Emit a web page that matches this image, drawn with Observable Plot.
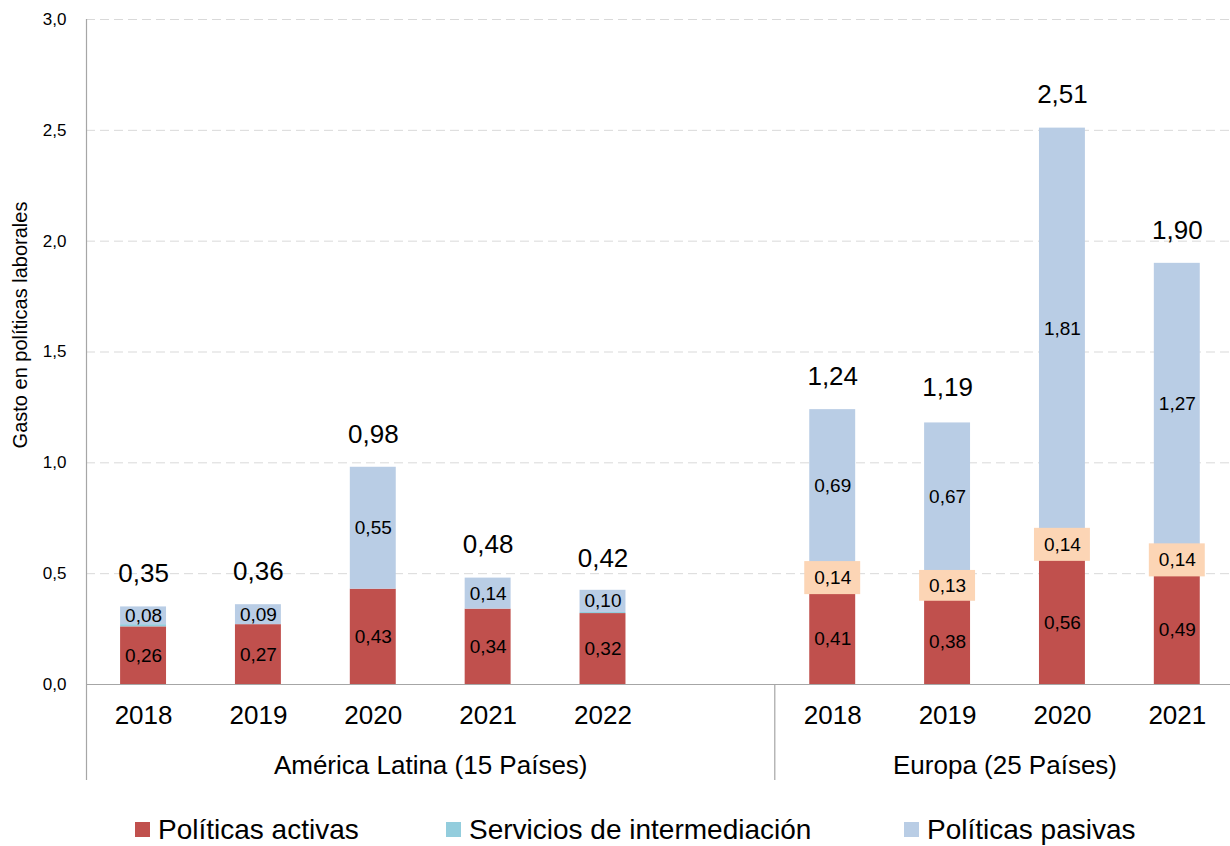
<!DOCTYPE html>
<html>
<head>
<meta charset="utf-8">
<script src="https://cdn.jsdelivr.net/npm/d3@7"></script>
<script src="https://cdn.jsdelivr.net/npm/@observablehq/plot@0.6"></script>
<style>
  body { margin: 0; background: #fff; font-family: "Liberation Sans", Arial, sans-serif; }
  #wrap { position: relative; width: 1230px; height: 846px; overflow: hidden; }
  #legend { position: absolute; left: 0; top: 800px; width: 1230px; height: 46px; }
  .item { position: absolute; top: 16px; font-size: 28px; line-height: 28px; color: #000; white-space: nowrap; }
  .sw { display: inline-block; width: 15px; height: 15px; margin-right: 8px; vertical-align: 2px; }
</style>
</head>
<body>
<div id="wrap"><div id="chart"></div><div id="legend"></div></div>
<script>
// ---- data ----
const groupLabels = ["América Latina (15 Países)", "Europa (25 Países)"];
const yearsAL = ["2018", "2019", "2020", "2021", "2022"];
const yearsEU = ["2018", "2019", "2020", "2021"];
const series = ["Políticas activas", "Servicios de intermediación", "Políticas pasivas"];
const colors = ["#C0504D", "#93CDDD", "#B9CDE5"];

const activasAL = [0.26, 0.27, 0.43, 0.34, 0.32];
const intermAL  = [0.01, 0.00, 0.00, 0.00, 0.005];
const pasivasAL = [0.08, 0.09, 0.55, 0.14, 0.10];
const totalAL   = [0.35, 0.36, 0.98, 0.48, 0.42];

const activasEU = [0.41, 0.38, 0.56, 0.49];
const intermEU  = [0.14, 0.13, 0.14, 0.14];
const pasivasEU = [0.69, 0.67, 1.81, 1.27];
const totalEU   = [1.24, 1.19, 2.51, 1.90];

const yTicks = [0, 0.5, 1.0, 1.5, 2.0, 2.5, 3.0];

// ---- build tables ----
const domainX = [...yearsAL.map(y => "AL-" + y), "gap", ...yearsEU.map(y => "EU-" + y)];
const segs = [];
const totals = [];
function addGroup(prefix, years, act, inter, pas, tot) {
  years.forEach((yr, i) => {
    const key = prefix + "-" + yr;
    let base = 0;
    [act[i], inter[i], pas[i]].forEach((v, s) => {
      segs.push({key, group: prefix, serie: series[s], value: v, y1: base, y2: base + v, mid: base + v / 2});
      base += v;
    });
    totals.push({key, total: tot[i]});
  });
}
addGroup("AL", yearsAL, activasAL, intermAL, pasivasAL, totalAL);
addGroup("EU", yearsEU, activasEU, intermEU, pasivasEU, totalEU);

const fmt2 = v => d3.format(".2f")(v).replace(".", ",");
const fmt1 = v => d3.format(".1f")(v).replace(".", ",");

// ---- layout ----
const W = 1230, H = 800, mL = 86, mR = 0, mT = 19, mB = 116;
const pIn = 0.6, pOut = 0.28;
const step = (W - mL - mR) / (domainX.length - pIn + 2 * pOut);

const segLabels = segs.filter(d => d.value >= 0.05);
const peach = segs.filter(d => d.group === "EU" && d.serie === series[1]);

const chart = Plot.plot({
  width: W, height: H,
  marginLeft: mL, marginRight: mR, marginTop: mT, marginBottom: mB,
  style: {fontFamily: "'Liberation Sans', Arial, sans-serif", color: "#000", background: "#fff"},
  x: {domain: domainX, paddingInner: pIn, paddingOuter: pOut, align: 0.53, round: false, axis: null},
  y: {domain: [0, 3], axis: null},
  color: {domain: series, range: colors},
  marks: [
    Plot.gridY(yTicks.slice(1), {stroke: "#d9d9d9", strokeOpacity: 1, strokeDasharray: "9,5"}),
    Plot.barY(segs, {x: "key", y1: "y1", y2: "y2", fill: "serie"}),
    Plot.barY(peach, {x: "key", y1: "y1", y2: "y2", fill: "#FCD5B5", insetLeft: -5, insetRight: -5, insetTop: -1, insetBottom: -1}),
    Plot.text(segLabels, {x: "key", y: "mid", text: d => fmt2(d.value), fontSize: 19, fill: "#000"}),
    Plot.text(totals, {x: "key", y: "total", text: d => fmt2(d.total), fontSize: 26, dy: -33, fill: "#000"}),
    Plot.ruleY([0], {stroke: "#a6a6a6", strokeWidth: 1.2}),
    Plot.axisY({ticks: yTicks, tickFormat: fmt1, tickSize: 0, tickPadding: 20, fontSize: 17, label: null}),
    Plot.axisX({tickFormat: d => d === "gap" ? "" : d.split("-")[1], tickSize: 0, tickPadding: 21, fontSize: 26, label: null}),
    Plot.text([groupLabels[0]], {x: () => "AL-2020", frameAnchor: "bottom", dx: step / 2, dy: 89, fontSize: 26}),
    Plot.text([groupLabels[1]], {x: () => "EU-2019", frameAnchor: "bottom", dx: step / 2, dy: 89, fontSize: 26}),
    Plot.text(["Gasto en políticas laborales"], {frameAnchor: "left", textAnchor: "middle", rotate: -90, dx: -66, dy: -27, fontSize: 20})
  ]
});
document.getElementById("chart").appendChild(chart);

// axis lines extending into the category area
const xs = chart.scale("x");
const svg = d3.select(chart);
const divX = (xs.apply("gap") + xs.apply("EU-2018")) / 2 + xs.bandwidth / 2;
svg.append("line").attr("x1", mL + 0.5).attr("x2", mL + 0.5).attr("y1", mT).attr("y2", 780)
  .attr("stroke", "#a6a6a6").attr("stroke-width", 1.2);
svg.append("line").attr("x1", divX).attr("x2", divX).attr("y1", H - mB).attr("y2", 780)
  .attr("stroke", "#a6a6a6").attr("stroke-width", 1.2);

// legend
const legendPos = [135, 446, 904];
const leg = document.getElementById("legend");
series.forEach((s, i) => {
  const el = document.createElement("div");
  el.className = "item";
  el.style.left = legendPos[i] + "px";
  el.innerHTML = `<span class="sw" style="background:${colors[i]}"></span>${s}`;
  leg.appendChild(el);
});
</script>
</body>
</html>
